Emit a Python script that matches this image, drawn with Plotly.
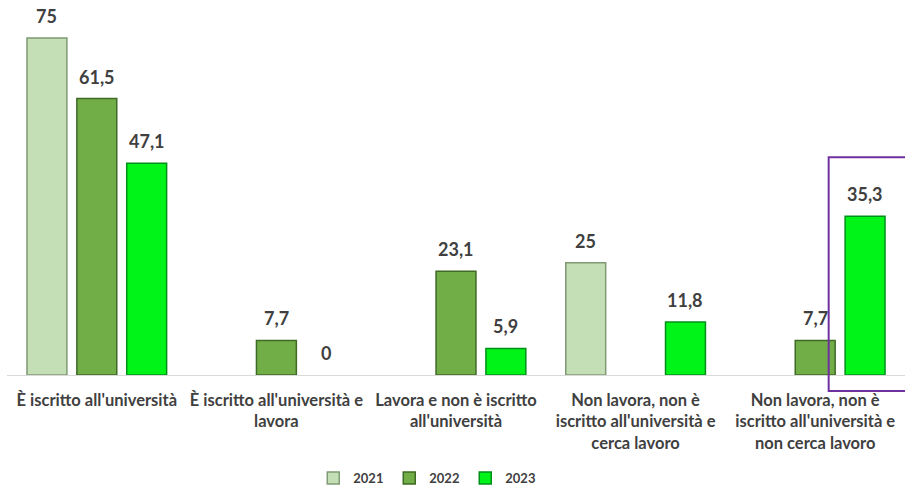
import plotly.graph_objects as go

categories = [
    "È iscritto all'università",
    "È iscritto all'università e<br>lavora",
    "Lavora e non è iscritto<br>all'università",
    "Non lavora, non è<br>iscritto all'università e<br>cerca lavoro",
    "Non lavora, non è<br>iscritto all'università e<br>non cerca lavoro",
]
series_names = ["2021", "2022", "2023"]
values_2021 = [75, None, None, 25, None]
values_2022 = [61.5, 7.7, 23.1, None, 7.7]
values_2023 = [47.1, 0, 5.9, 11.8, 35.3]
colors = ["#c4dfb6", "#72ae48", "#00f418"]
line_colors = ["#7f9a74", "#3f6a25", "#00901a"]

all_values = [values_2021, values_2022, values_2023]

BARGAP = 0.167
BARGROUPGAP = 0.2

fig = go.Figure()
for name, vals, col, lc in zip(series_names, all_values, colors, line_colors):
    widths = [0 if (v is None or v == 0) else 1.5 for v in vals]
    fig.add_trace(go.Bar(
        name=name, x=list(range(len(categories))), y=vals,
        marker=dict(color=col, line=dict(color=lc, width=widths)),
    ))

slot = (1 - BARGAP) / len(series_names)
annotations = []
for s, vals in enumerate(all_values):
    for c, v in enumerate(vals):
        if v is None:
            continue
        annotations.append(dict(
            x=c + (s - 1) * slot, y=v, xref="x", yref="y",
            text=f"{v:g}".replace(".", ","), showarrow=False,
            yanchor="bottom", yshift=9,
            font=dict(family="Lato", size=18, color="#404040", weight="bold"),
        ))

fig.update_layout(
    width=905, height=487,
    margin=dict(l=7, r=0, t=2, b=112, autoexpand=False),
    paper_bgcolor="white", plot_bgcolor="white",
    barmode="group", bargap=BARGAP, bargroupgap=BARGROUPGAP,
    annotations=annotations,
    showlegend=True,
    legend=dict(orientation="h", x=0.468, xanchor="center", y=-0.276, yanchor="middle",
                font=dict(family="Lato", size=13, color="#404040", weight="bold"),
                itemwidth=30, entrywidth=31, entrywidthmode="pixels",
                traceorder="normal"),
    xaxis=dict(
        tickmode="array", tickvals=list(range(len(categories))), ticktext=categories,
        range=[-0.5, len(categories) - 0.5],
        showline=True, linecolor="#d9d9d9", linewidth=1,
        showgrid=False, zeroline=False, ticks="", ticklabelstandoff=10,
        tickfont=dict(family="Lato", size=16.5, color="#404040", weight="bold"),
    ),
    yaxis=dict(range=[0, 83], visible=False, showgrid=False, zeroline=False),
    shapes=[dict(
        type="rect", xref="paper", yref="paper",
        x0=0.915, x1=1.01, y0=-0.043, y1=0.584,
        line=dict(color="#7030a0", width=2), fillcolor="rgba(0,0,0,0)",
    )],
)

fig.write_html("out.html", config={"displayModeBar": False},
               post_script="document.body.style.margin='0';")
